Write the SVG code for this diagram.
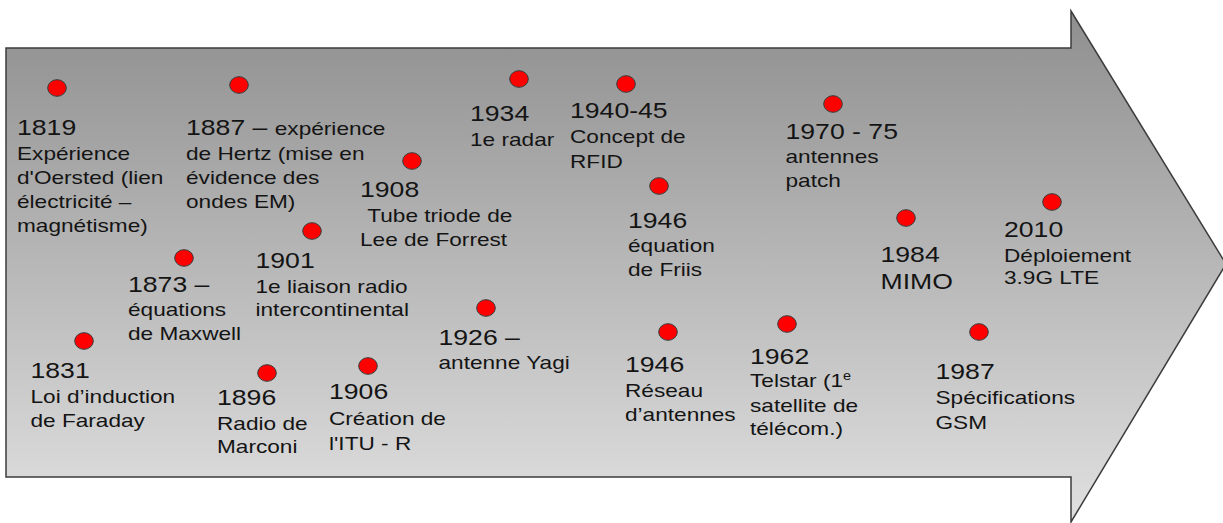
<svg xmlns="http://www.w3.org/2000/svg" width="1223" height="523" viewBox="0 0 1223 523">
  <defs>
    <linearGradient id="bg" x1="0" y1="0" x2="0" y2="1">
      <stop offset="0" stop-color="#8f8f8f"/>
      <stop offset="1" stop-color="#e0e0e0"/>
    </linearGradient>
  </defs>
  <style>
    .dot { fill: #ff0000; stroke: #3a3a3a; stroke-width: 1; }
    text { font-family: "Liberation Sans", Arial, sans-serif; fill: #141414; }
    .yr { font-size: 22px; }
    .ds { font-size: 18.7px; }
    .sup { font-size: 12px; }
  </style>
  <g id="arrow">
    <polygon points="6,48 1071,48 1071,11 1226,264 1071,522 1071,477 6,477" fill="url(#bg)" stroke="#3c3c3c" stroke-width="1.5" stroke-linejoin="miter"/>
  </g>

  <g id="e1819">
    <ellipse class="dot" cx="57" cy="88" rx="9.3" ry="8.3"/>
    <text transform="translate(17,0) scale(1.21,1)">
      <tspan class="yr" x="0" y="135">1819</tspan>
      <tspan class="ds" x="0" y="160">Expérience</tspan>
      <tspan class="ds" x="0" y="184">d'Oersted (lien</tspan>
      <tspan class="ds" x="0" y="208">électricité –</tspan>
      <tspan class="ds" x="0" y="232">magnétisme)</tspan>
    </text>
  </g>

  <g id="e1887">
    <ellipse class="dot" cx="239" cy="85" rx="9.3" ry="8.3"/>
    <text transform="translate(186,0) scale(1.21,1)">
      <tspan class="yr" x="0" y="135">1887 – </tspan><tspan class="ds">expérience</tspan>
      <tspan class="ds" x="0" y="160">de Hertz (mise en</tspan>
      <tspan class="ds" x="0" y="184">évidence des</tspan>
      <tspan class="ds" x="0" y="208">ondes EM)</tspan>
    </text>
  </g>

  <g id="e1908">
    <ellipse class="dot" cx="412" cy="161" rx="9.3" ry="8.3"/>
    <text transform="translate(360,0) scale(1.21,1)">
      <tspan class="yr" x="0" y="197">1908</tspan>
      <tspan class="ds" x="6" y="222">Tube triode de</tspan>
      <tspan class="ds" x="0" y="246">Lee de Forrest</tspan>
    </text>
  </g>

  <g id="e1901">
    <ellipse class="dot" cx="312" cy="231" rx="9.3" ry="8.3"/>
    <text transform="translate(255.5,0) scale(1.21,1)">
      <tspan class="yr" x="0" y="268">1901</tspan>
      <tspan class="ds" x="0" y="293">1e liaison radio</tspan>
      <tspan class="ds" x="0" y="316.5">intercontinental</tspan>
    </text>
  </g>

  <g id="e1873">
    <ellipse class="dot" cx="184" cy="258" rx="9.3" ry="8.3"/>
    <text transform="translate(128,0) scale(1.21,1)">
      <tspan class="yr" x="0" y="292">1873 –</tspan>
      <tspan class="ds" x="0" y="316">équations</tspan>
      <tspan class="ds" x="0" y="340.5">de Maxwell</tspan>
    </text>
  </g>

  <g id="e1831">
    <ellipse class="dot" cx="84" cy="341" rx="9.3" ry="8.3"/>
    <text transform="translate(30.5,0) scale(1.21,1)">
      <tspan class="yr" x="0" y="378">1831</tspan>
      <tspan class="ds" x="0" y="403">Loi d’induction</tspan>
      <tspan class="ds" x="0" y="427">de Faraday</tspan>
    </text>
  </g>

  <g id="e1896">
    <ellipse class="dot" cx="267" cy="373" rx="9.3" ry="8.3"/>
    <text transform="translate(217,0) scale(1.21,1)">
      <tspan class="yr" x="0" y="405">1896</tspan>
      <tspan class="ds" x="0" y="430">Radio de</tspan>
      <tspan class="ds" x="0" y="453.5">Marconi</tspan>
    </text>
  </g>

  <g id="e1906">
    <ellipse class="dot" cx="368" cy="366" rx="9.3" ry="8.3"/>
    <text transform="translate(329,0) scale(1.21,1)">
      <tspan class="yr" x="0" y="399.5">1906</tspan>
      <tspan class="ds" x="0" y="425.5">Création de</tspan>
      <tspan class="ds" x="0" y="450">l'ITU - R</tspan>
    </text>
  </g>

  <g id="e1934">
    <ellipse class="dot" cx="519" cy="79" rx="9.3" ry="8.3"/>
    <text transform="translate(470,0) scale(1.21,1)">
      <tspan class="yr" x="0" y="121.5">1934</tspan>
      <tspan class="ds" x="0" y="146">1e radar</tspan>
    </text>
  </g>

  <g id="e1940">
    <ellipse class="dot" cx="626" cy="84" rx="9.3" ry="8.3"/>
    <text transform="translate(570,0) scale(1.21,1)">
      <tspan class="yr" x="0" y="118">1940-45</tspan>
      <tspan class="ds" x="0" y="143.5">Concept de</tspan>
      <tspan class="ds" x="0" y="168">RFID</tspan>
    </text>
  </g>

  <g id="e1946a">
    <ellipse class="dot" cx="659" cy="186" rx="9.3" ry="8.3"/>
    <text transform="translate(628,0) scale(1.21,1)">
      <tspan class="yr" x="0" y="228">1946</tspan>
      <tspan class="ds" x="0" y="252">équation</tspan>
      <tspan class="ds" x="0" y="276">de Friis</tspan>
    </text>
  </g>

  <g id="e1926">
    <ellipse class="dot" cx="486" cy="308" rx="9.3" ry="8.3"/>
    <text transform="translate(438.5,0) scale(1.21,1)">
      <tspan class="yr" x="0" y="345">1926 –</tspan>
      <tspan class="ds" x="0" y="369.5">antenne Yagi</tspan>
    </text>
  </g>

  <g id="e1946b">
    <ellipse class="dot" cx="668" cy="332" rx="9.3" ry="8.3"/>
    <text transform="translate(625,0) scale(1.21,1)">
      <tspan class="yr" x="0" y="372">1946</tspan>
      <tspan class="ds" x="0" y="397">Réseau</tspan>
      <tspan class="ds" x="0" y="421.5">d’antennes</tspan>
    </text>
  </g>

  <g id="e1962">
    <ellipse class="dot" cx="787" cy="324" rx="9.3" ry="8.3"/>
    <text transform="translate(750,0) scale(1.21,1)">
      <tspan class="yr" x="0" y="364.3">1962</tspan>
      <tspan class="ds" x="0" y="387">Telstar (1</tspan><tspan class="sup" dy="-7">e</tspan>
      <tspan class="ds" x="0" y="411.7">satellite de</tspan>
      <tspan class="ds" x="0" y="435">télécom.)</tspan>
    </text>
  </g>

  <g id="e1970">
    <ellipse class="dot" cx="833" cy="104" rx="9.3" ry="8.3"/>
    <text transform="translate(785.5,0) scale(1.21,1)">
      <tspan class="yr" x="0" y="139.3">1970 - 75</tspan>
      <tspan class="ds" x="0" y="163.5">antennes</tspan>
      <tspan class="ds" x="0" y="187.5">patch</tspan>
    </text>
  </g>

  <g id="e1984">
    <ellipse class="dot" cx="906" cy="218" rx="9.3" ry="8.3"/>
    <text transform="translate(880.5,0) scale(1.21,1)">
      <tspan class="yr" x="0" y="261.7">1984</tspan>
      <tspan class="yr" x="0" y="289">MIMO</tspan>
    </text>
  </g>

  <g id="e2010">
    <ellipse class="dot" cx="1052" cy="202" rx="9.3" ry="8.3"/>
    <text transform="translate(1004,0) scale(1.21,1)">
      <tspan class="yr" x="0" y="236.7">2010</tspan>
      <tspan class="ds" x="0" y="261.7">Déploiement</tspan>
      <tspan class="ds" x="0" y="284.5">3.9G LTE</tspan>
    </text>
  </g>

  <g id="e1987">
    <ellipse class="dot" cx="979" cy="332" rx="9.3" ry="8.3"/>
    <text transform="translate(935.5,0) scale(1.21,1)">
      <tspan class="yr" x="0" y="379.3">1987</tspan>
      <tspan class="ds" x="0" y="404">Spécifications</tspan>
      <tspan class="ds" x="0" y="429">GSM</tspan>
    </text>
  </g>
</svg>
